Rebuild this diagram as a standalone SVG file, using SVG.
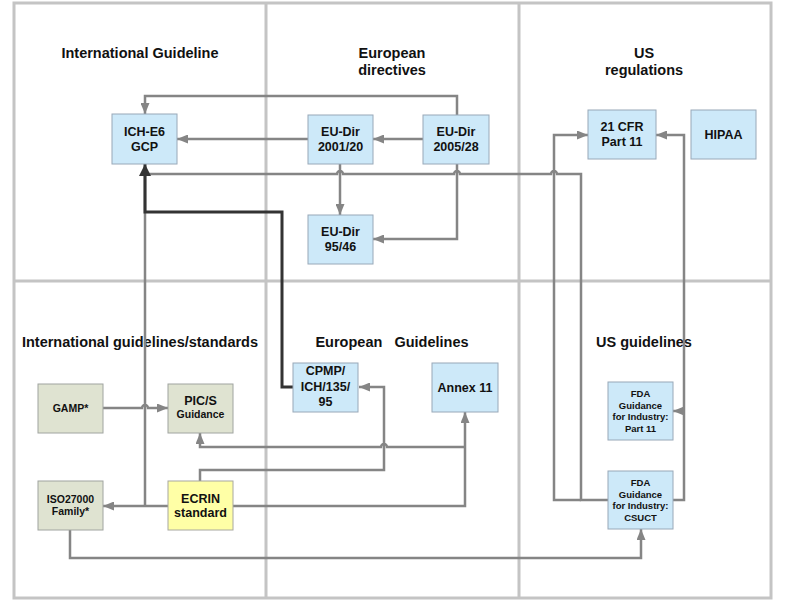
<svg xmlns="http://www.w3.org/2000/svg" width="785" height="601" viewBox="0 0 785 601">
<style>
.grid{fill:none;stroke:#c4c4c4;stroke-width:3}
.title{font-family:"Liberation Sans",Arial,sans-serif;font-weight:bold;font-size:14.5px;fill:#111;text-anchor:middle}
.t{font-family:"Liberation Sans",Arial,sans-serif;font-weight:bold;font-size:12.5px;fill:#111;text-anchor:middle}
.s{font-family:"Liberation Sans",Arial,sans-serif;font-weight:bold;font-size:10.5px;fill:#111;text-anchor:middle}
.xs{font-family:"Liberation Sans",Arial,sans-serif;font-weight:bold;font-size:9.5px;fill:#111;text-anchor:middle}
.blue{fill:#cde9f9;stroke:#98a8b8;stroke-width:1}
.green{fill:#dfe3d1;stroke:#a0a4a0;stroke-width:1}
.yellow{fill:#ffffa6;stroke:#a8a8a0;stroke-width:1}
.c{fill:none;stroke:#858585;stroke-width:2.5}
.k{fill:none;stroke:#333;stroke-width:3}
</style>
<defs>
<marker id="ag" markerUnits="userSpaceOnUse" markerWidth="11" markerHeight="9" refX="11" refY="4.5" orient="auto"><path d="M0,0 L11,4.5 L0,9 z" fill="#858585"/></marker>
<marker id="ak" markerUnits="userSpaceOnUse" markerWidth="12" markerHeight="12" refX="12" refY="6" orient="auto"><path d="M0,0 L12,6 L0,12 z" fill="#333"/></marker>
</defs>
<rect width="785" height="601" fill="#fff"/>
<g id="grid">
<rect class="grid" x="14" y="3" width="757" height="595"/>
<line class="grid" x1="266" y1="3" x2="266" y2="598"/>
<line class="grid" x1="519" y1="3" x2="519" y2="598"/>
<line class="grid" x1="14" y1="281" x2="771" y2="281"/>
</g>
<g id="titles">
<text class="title" x="140" y="58">International Guideline</text>
<text class="title" x="392" y="58">European</text>
<text class="title" x="392" y="75">directives</text>
<text class="title" x="644" y="58">US</text>
<text class="title" x="644" y="75">regulations</text>
<text class="title" x="140" y="347">International guidelines/standards</text>
<text class="title" x="392" y="347" xml:space="preserve">European   Guidelines</text>
<text class="title" x="644" y="347">US guidelines</text>
</g>
<g id="connectors">
<path class="c" d="M457,115 V96 H145 V114" marker-end="url(#ag)"/>
<path class="c" d="M308,139 H177" marker-end="url(#ag)"/>
<path class="c" d="M423,139 H373" marker-end="url(#ag)"/>
<path class="c" d="M340,164 V215" marker-end="url(#ag)"/>
<path class="c" d="M457,164 V239 H373" marker-end="url(#ag)"/>
<path class="c" d="M608,500 H581 V174 H557 a3,3 0 0 0 -6,0 H460 a3,3 0 0 0 -6,0 H343 a3,3 0 0 0 -6,0 H145 V170"/>
<path class="c" d="M581,500 H554 V135 H588" marker-end="url(#ag)"/>
<path class="c" d="M673,500 H684 V135 H656" marker-end="url(#ag)"/>
<path class="c" d="M684,411 H673" marker-end="url(#ag)"/>
<path class="c" d="M103,408 H142 a3,3 0 0 1 6,0 H168" marker-end="url(#ag)"/>
<path class="c" d="M168,506 H103" marker-end="url(#ag)"/>
<path class="c" d="M145,506 V170"/>
<path class="c" d="M233,506 H465 V412" marker-end="url(#ag)"/>
<path class="c" d="M465,447 H387 a3,3 0 0 0 -6,0 H200 V433" marker-end="url(#ag)"/>
<path class="c" d="M200,481 V470 H384 V387 H359" marker-end="url(#ag)"/>
<path class="c" d="M70,530 V558 H641 V529" marker-end="url(#ag)"/>
<path class="k" d="M293,387 H282 V212 H145 V164" marker-end="url(#ak)"/>
</g>
<g id="ich-e6">
<rect class="blue" x="112" y="114" width="65" height="50"/>
<text class="t" x="144.5" y="136">ICH-E6</text>
<text class="t" x="144.5" y="151">GCP</text>
</g>
<g id="eu-dir-2001-20">
<rect class="blue" x="308" y="115" width="65" height="49"/>
<text class="t" x="340.5" y="136">EU-Dir</text>
<text class="t" x="340.5" y="151">2001/20</text>
</g>
<g id="eu-dir-2005-28">
<rect class="blue" x="423" y="115" width="66" height="49"/>
<text class="t" x="456" y="136">EU-Dir</text>
<text class="t" x="456" y="151">2005/28</text>
</g>
<g id="eu-dir-95-46">
<rect class="blue" x="308" y="215" width="65" height="49"/>
<text class="t" x="340.5" y="236">EU-Dir</text>
<text class="t" x="340.5" y="251">95/46</text>
</g>
<g id="cfr-part-11">
<rect class="blue" x="588" y="110" width="68" height="49"/>
<text class="t" x="622" y="131">21 CFR</text>
<text class="t" x="622" y="146">Part 11</text>
</g>
<g id="hipaa">
<rect class="blue" x="691" y="110" width="65" height="49"/>
<text class="t" x="723.5" y="139">HIPAA</text>
</g>
<g id="gamp">
<rect class="green" x="38" y="384" width="65" height="49"/>
<text class="s" x="70.5" y="412">GAMP*</text>
</g>
<g id="pics">
<rect class="green" x="168" y="384" width="65" height="49"/>
<text class="t" x="200.5" y="405">PIC/S</text>
<text class="s" x="200.5" y="418">Guidance</text>
</g>
<g id="iso27000">
<rect class="green" x="38" y="481" width="65" height="49"/>
<text class="s" x="70.5" y="503">ISO27000</text>
<text class="s" x="70.5" y="515">Family*</text>
</g>
<g id="ecrin">
<rect class="yellow" x="168" y="481" width="65" height="49"/>
<text class="t" x="200.5" y="503">ECRIN</text>
<text class="t" x="200.5" y="517">standard</text>
</g>
<g id="cpmp">
<rect class="blue" x="293" y="363" width="65" height="49"/>
<text class="t" x="325.5" y="375">CPMP/</text>
<text class="t" x="325.5" y="391">ICH/135/</text>
<text class="t" x="325.5" y="406">95</text>
</g>
<g id="annex-11">
<rect class="blue" x="432" y="363" width="66" height="49"/>
<text class="t" x="465" y="392">Annex 11</text>
</g>
<g id="fda-part-11">
<rect class="blue" x="608" y="382" width="65" height="58"/>
<text class="xs" x="640.5" y="397">FDA</text>
<text class="xs" x="640.5" y="408.5">Guidance</text>
<text class="xs" x="640.5" y="420">for Industry:</text>
<text class="xs" x="640.5" y="431.5">Part 11</text>
</g>
<g id="fda-csuct">
<rect class="blue" x="608" y="471" width="65" height="58"/>
<text class="xs" x="640.5" y="486">FDA</text>
<text class="xs" x="640.5" y="497.5">Guidance</text>
<text class="xs" x="640.5" y="509">for Industry:</text>
<text class="xs" x="640.5" y="520.5">CSUCT</text>
</g>
</svg>
